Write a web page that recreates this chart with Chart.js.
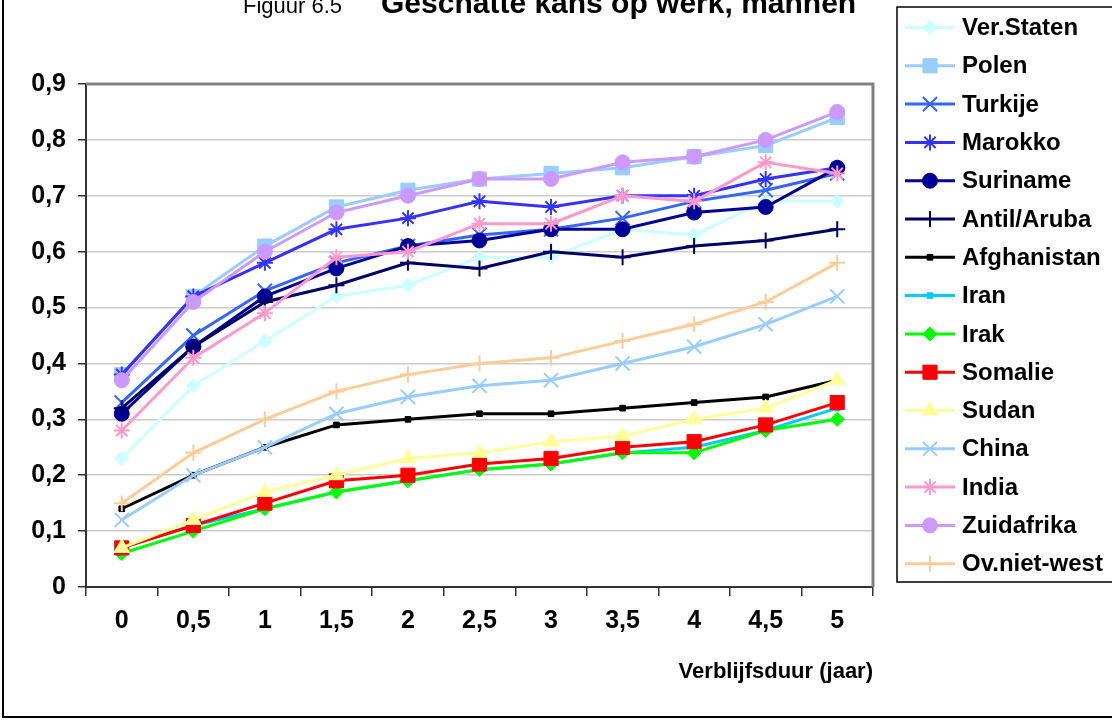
<!DOCTYPE html>
<html>
<head>
<meta charset="utf-8">
<script src="https://cdn.jsdelivr.net/npm/chart.js@4.4.1/dist/chart.umd.min.js"></script>
<style>
  body { margin: 0; background: #fff; }
  canvas { display: block; }
</style>
</head>
<body>
<canvas id="grafiek" width="1112" height="720"></canvas>
<script>
// verblijfsduur in jaren (x-as)
const jaren = ["0", "0,5", "1", "1,5", "2", "2,5", "3", "3,5", "4", "4,5", "5"]

// geschatte kans op werk per herkomstgroep
const verStaten   = [0.23, 0.36, 0.44, 0.52, 0.54, 0.59, 0.59, 0.64, 0.63, 0.69, 0.69]
const polen       = [0.38, 0.52, 0.61, 0.68, 0.71, 0.73, 0.74, 0.75, 0.77, 0.79, 0.84]
const turkije     = [0.33, 0.45, 0.53, 0.58, 0.61, 0.63, 0.64, 0.66, 0.69, 0.71, 0.74]
const marokko     = [0.38, 0.52, 0.58, 0.64, 0.66, 0.69, 0.68, 0.70, 0.70, 0.73, 0.75]
const suriname    = [0.31, 0.43, 0.52, 0.57, 0.61, 0.62, 0.64, 0.64, 0.67, 0.68, 0.75]
const antilAruba  = [0.32, 0.43, 0.51, 0.54, 0.58, 0.57, 0.60, 0.59, 0.61, 0.62, 0.64]
const afghanistan = [0.14, 0.20, 0.25, 0.29, 0.30, 0.31, 0.31, 0.32, 0.33, 0.34, 0.37]
const iran        = [0.07, 0.11, 0.14, 0.17, 0.19, 0.21, 0.22, 0.24, 0.25, 0.28, 0.32]
const irak        = [0.06, 0.10, 0.14, 0.17, 0.19, 0.21, 0.22, 0.24, 0.24, 0.28, 0.30]
const somalie     = [0.07, 0.11, 0.15, 0.19, 0.20, 0.22, 0.23, 0.25, 0.26, 0.29, 0.33]
const sudan       = [0.07, 0.12, 0.17, 0.20, 0.23, 0.24, 0.26, 0.27, 0.30, 0.32, 0.37]
const china       = [0.12, 0.20, 0.25, 0.31, 0.34, 0.36, 0.37, 0.40, 0.43, 0.47, 0.52]
const india       = [0.28, 0.41, 0.49, 0.59, 0.60, 0.65, 0.65, 0.70, 0.69, 0.76, 0.74]
const zuidafrika  = [0.37, 0.51, 0.60, 0.67, 0.70, 0.73, 0.73, 0.76, 0.77, 0.80, 0.85]
const ovNietWest  = [0.15, 0.24, 0.30, 0.35, 0.38, 0.40, 0.41, 0.44, 0.47, 0.51, 0.58]

const yTicks = [0, 0.1, 0.2, 0.3, 0.4, 0.5, 0.6, 0.7, 0.8, 0.9]

const FONT = 'Arial, "Liberation Sans", sans-serif'
Chart.defaults.font.family = FONT
Chart.defaults.color = '#000'

// lijn + markering per reeks (excel-stijl)
function reeks(label, data, kleur, vorm, straal, dik) {
  const open = (vorm == 'cross' || vorm == 'crossRot' || vorm == 'star')
  return {
    label: label,
    data: data,
    borderColor: kleur,
    backgroundColor: kleur,
    borderWidth: 3,
    pointStyle: vorm,
    pointRadius: straal,
    pointHoverRadius: straal,
    pointBackgroundColor: kleur,
    pointBorderColor: kleur,
    pointBorderWidth: open ? (dik || 2) : 1,
    tension: 0,
    fill: false
  }
}

const datasets = [
  reeks('Ver.Staten', verStaten, '#CCFFFF', 'rectRot', 7),
  reeks('Polen', polen, '#99CCFF', 'rect', 10),
  reeks('Turkije', turkije, '#3366FF', 'crossRot', 10),
  reeks('Marokko', marokko, '#3333FF', 'star', 8),
  reeks('Suriname', suriname, '#000099', 'circle', 7.5),
  reeks('Antil/Aruba', antilAruba, '#000066', 'cross', 8),
  reeks('Afghanistan', afghanistan, '#000000', 'rect', 4),
  reeks('Iran', iran, '#00CCFF', 'rect', 4),
  reeks('Irak', irak, '#00FF00', 'rectRot', 7),
  reeks('Somalie', somalie, '#FF0000', 'rect', 10),
  reeks('Sudan', sudan, '#FFFF99', 'triangle', 9),
  reeks('China', china, '#99CCFF', 'crossRot', 10),
  reeks('India', india, '#FF99CC', 'star', 8),
  reeks('Zuidafrika', zuidafrika, '#CC99FF', 'circle', 7.5),
  reeks('Ov.niet-west', ovNietWest, '#FFCC99', 'cross', 8)
]
// latere reeksen bovenop tekenen, zoals in excel
datasets.forEach(function (d, i) { d.order = -i })

function puntTekenen(ctx, d, x, y) {
  ctx.save()
  ctx.fillStyle = d.pointBackgroundColor
  ctx.strokeStyle = d.pointBorderColor
  ctx.lineWidth = d.pointBorderWidth
  if (Chart.helpers && Chart.helpers.drawPoint) {
    Chart.helpers.drawPoint(ctx, { pointStyle: d.pointStyle, radius: d.pointRadius, rotation: 0, borderWidth: d.pointBorderWidth }, x, y)
  } else {
    ctx.beginPath()
    ctx.arc(x, y, d.pointRadius, 0, Math.PI * 2)
    ctx.fill()
  }
  ctx.restore()
}

const kaderPlugin = {
  id: 'kader',
  beforeDatasetsDraw(chart) {
    const ctx = chart.ctx
    const a = chart.chartArea
    ctx.save()
    ctx.strokeStyle = '#808080'
    ctx.lineWidth = 3
    ctx.beginPath()
    ctx.moveTo(a.left, a.top)
    ctx.lineTo(a.right, a.top)
    ctx.lineTo(a.right, a.bottom)
    ctx.stroke()
    ctx.restore()
  },
  afterDraw(chart) {
    const ctx = chart.ctx
    ctx.save()
    // buitenrand van de figuur
    ctx.strokeStyle = '#000'
    ctx.lineWidth = 2
    ctx.strokeRect(3, -10, 1200, 727)

    // titel
    ctx.fillStyle = '#000'
    ctx.textBaseline = 'alphabetic'
    ctx.textAlign = 'left'
    ctx.font = '22px ' + FONT
    ctx.fillText('Figuur 6.5', 243, 13)
    ctx.font = 'bold 30px ' + FONT
    ctx.fillText('Geschatte kans op werk, mannen', 381, 13)

    // legenda
    ctx.strokeStyle = '#000'
    ctx.lineWidth = 1.5
    ctx.strokeRect(897, 7, 230, 575)
    ctx.font = 'bold 24px ' + FONT
    ctx.textBaseline = 'middle'
    chart.data.datasets.forEach(function (d, i) {
      const y = 27.5 + i * 38.3
      ctx.strokeStyle = d.borderColor
      ctx.lineWidth = 3
      ctx.beginPath()
      ctx.moveTo(905, y)
      ctx.lineTo(955, y)
      ctx.stroke()
      puntTekenen(ctx, d, 930, y)
      ctx.fillStyle = '#000'
      ctx.fillText(d.label, 962, y + 1)
    })
    ctx.restore()
  }
}

new Chart(document.getElementById('grafiek'), {
  type: 'line',
  data: { labels: jaren, datasets: datasets },
  options: {
    responsive: false,
    animation: false,
    events: [],
    layout: { padding: { left: 0, top: 84, right: 239, bottom: 0 } },
    plugins: {
      legend: { display: false },
      tooltip: { enabled: false },
      title: { display: false }
    },
    scales: {
      x: {
        offset: true,
        afterFit: function (s) { s.height = 133 },
        grid: { offset: true, drawOnChartArea: false, drawTicks: true, tickLength: 9, tickColor: '#333', lineWidth: 1.5 },
        border: { color: '#333', width: 2 },
        ticks: { font: { size: 25, weight: 'bold' }, padding: 10, maxRotation: 0, autoSkip: false },
        title: {
          display: true,
          text: 'Verblijfsduur (jaar)',
          align: 'end',
          font: { size: 22, weight: 'bold' },
          padding: { top: 0, bottom: 35 }
        }
      },
      y: {
        min: 0,
        max: 0.9,
        afterFit: function (s) { s.width = 86 },
        afterBuildTicks: function (s) { s.ticks = yTicks.map(function (v) { return { value: v } }) },
        grid: { color: '#cccccc', lineWidth: 1.5, tickLength: 8, tickColor: '#333' },
        border: { color: '#333', width: 2 },
        ticks: {
          font: { size: 25, weight: 'bold' },
          padding: 12,
          callback: function (v) { return v === 0 ? '0' : v.toFixed(1).replace('.', ',') }
        }
      }
    }
  },
  plugins: [kaderPlugin]
})
</script>
</body>
</html>
